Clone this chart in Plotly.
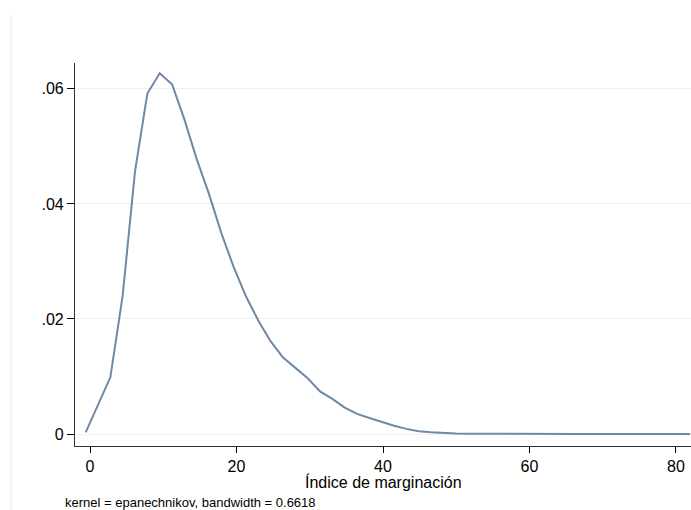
import plotly.graph_objects as go

# Kernel density estimate (50 evaluation points)
x_start = -0.59
x_step = 1.684
density = [
    0.00028, 0.0050, 0.00986, 0.0241, 0.0457, 0.0592, 0.0627, 0.0608, 0.0547, 0.0478,
    0.0417, 0.0349, 0.0290, 0.0239, 0.0197, 0.0161, 0.0133, 0.0115, 0.0097, 0.0074,
    0.0061, 0.0046, 0.0035, 0.0028, 0.0021, 0.00145, 0.0009, 0.0005, 0.0003, 0.00015,
    0.0001, 0.00006, 0.00004, 0.00003, 0.00002, 0.00002, 0.00001, 0.00001, 0.00001, 0.00001,
    0.00001, 0.00001, 0.00001, 0.00001, 0.00001, 0.00001, 0.00001, 0.00001, 0.00001, 0.00001,
]
x_vals = [round(x_start + i * x_step, 4) for i in range(len(density))]

x_ticks = [0, 20, 40, 60, 80]
x_tick_labels = ["0", "20", "40", "60", "80"]
y_ticks = [0, 0.02, 0.04, 0.06]
y_tick_labels = ["0", ".02", ".04", ".06"]

x_title = "Índice de marginación"
note_text = "kernel = epanechnikov, bandwidth = 0.6618"

FONT = "Liberation Sans, Arial, sans-serif"
PLOT_H = 383.0
PLOT_W = 616.0

fig = go.Figure()
fig.add_trace(go.Scatter(
    x=x_vals, y=density, mode="lines",
    line=dict(color="#6f88a6", width=2),
    hoverinfo="skip", showlegend=False,
))

fig.update_layout(
    width=691, height=510,
    margin=dict(l=75, r=0, t=63, b=64),
    paper_bgcolor="white", plot_bgcolor="white",
    font=dict(family=FONT, size=16, color="black"),
    xaxis=dict(
        range=[-2.05, 82.05],
        tickmode="array", tickvals=x_ticks, ticktext=x_tick_labels,
        ticks="outside", ticklen=6, tickwidth=1, tickcolor="black",
        showline=True, linecolor="#333333", linewidth=1.2,
        showgrid=False, zeroline=False,
        tickfont=dict(size=16),
    ),
    yaxis=dict(
        range=[-0.00208, 0.0645],
        tickmode="array", tickvals=y_ticks, ticktext=y_tick_labels,
        ticks="outside", ticklen=7, tickwidth=1, tickcolor="black",
        showline=True, linecolor="#333333", linewidth=1.2,
        showgrid=True, gridcolor="#eaf2f3", gridwidth=1.2,
        zeroline=False,
        tickfont=dict(size=16),
    ),
)

# faint outer frame line on the left
fig.add_shape(type="line", xref="paper", yref="paper",
              x0=-64 / PLOT_W, x1=-64 / PLOT_W, y0=-64 / PLOT_H, y1=1 + 49 / PLOT_H,
              line=dict(color="#e6eef0", width=1))

# x-axis title
fig.add_annotation(
    text=x_title, xref="paper", yref="paper",
    x=(383 - 75) / PLOT_W, y=-36 / PLOT_H, xanchor="center", yanchor="middle",
    showarrow=False, font=dict(size=16, family=FONT, color="black"),
)

fig.add_annotation(
    text=note_text, xref="paper", yref="paper",
    x=-12 / PLOT_W, y=-56 / PLOT_H, xanchor="left", yanchor="middle",
    showarrow=False, font=dict(size=13, family=FONT, color="black"),
)

fig.write_html("out.html")
